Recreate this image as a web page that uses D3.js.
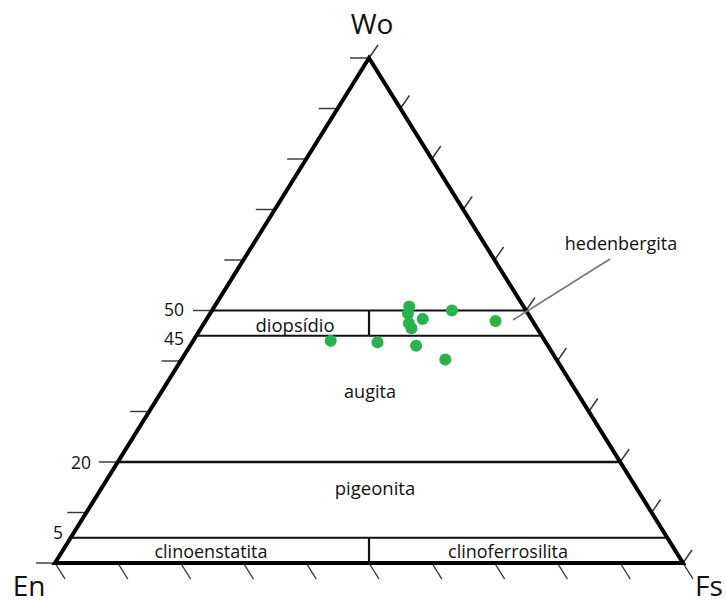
<!DOCTYPE html>
<html>
<head>
<meta charset="utf-8">
<script src="https://cdn.jsdelivr.net/npm/d3@7"></script>
<style>
  html, body { margin: 0; padding: 0; background: #fff; }
  svg text { font-family: "Open Sans", "Noto Sans", sans-serif; fill: #111; }
</style>
</head>
<body>
<svg id="chart" width="726" height="605"></svg>
<script>
// Pyroxene quadrilateral (Wo–En–Fs), compositions in mol %
const wo = [50.8, 49.4, 47.5, 46.5, 48.3, 50.0, 47.9, 44.0, 43.7, 43.0, 40.3];
const en = [18.2, 19.1, 19.9, 20.0, 17.3, 11.8, 5.9, 34.1, 26.8, 21.0, 17.7];
const fs = [31.0, 31.5, 32.6, 33.5, 34.4, 38.2, 46.2, 21.9, 29.5, 36.0, 42.0];

// Wo levels of the field boundaries and their labels
const boundaryWo = [50, 45, 20, 5];
const boundaryLabels = ["50", "45", "20", "5"];

// Tick positions (percent) along every side
const tickValues = [0, 10, 20, 30, 40, 50, 60, 70, 80, 90, 100];

// Field names
const fieldNames = ["diopsídio", "hedenbergita", "augita", "pigeonita", "clinoenstatita", "clinoferrosilita"];
const apexNames = ["Wo", "En", "Fs"];

const svg = d3.select("#chart");

// Triangle corners in screen space
const P_EN = [55, 563], P_FS = [683, 563], P_WO = [369, 58];

// Wo -> vertical position; Fs -> horizontal position along the base
const yWo = d3.scaleLinear().domain([0, 100]).range([P_EN[1], P_WO[1]]);
const xFs = d3.scaleLinear().domain([0, 100]).range([P_EN[0], P_FS[0]]);
const xWoShift = d3.scaleLinear().domain([0, 100]).range([0, P_WO[0] - P_EN[0]]);

// (Wo, Fs) -> [x, y]
function proj(w, f) {
  return [xFs(f) + xWoShift(w), yWo(w)];
}
// points on the left (En–Wo) and right (Fs–Wo) sides at a given Wo
const leftAt = w => proj(w, 0);
const rightAt = w => proj(w, 100 - w);

const line = d3.line();

// ticks
const tickG = svg.append("g").attr("stroke", "#333").attr("stroke-width", 1.4).attr("fill", "none");
tickValues.forEach(t => {
  const l = leftAt(t);
  tickG.append("path").attr("d", line([[l[0] - 19, l[1]], l]));
  const b = proj(0, t);
  tickG.append("path").attr("d", line([b, [b[0] + 10, b[1] + 16]]));
  const r = rightAt(t);
  tickG.append("path").attr("d", line([r, [r[0] + 9, r[1] - 13]]));
});

// field boundaries
const bG = svg.append("g").attr("stroke", "#111").attr("fill", "none");
boundaryWo.forEach(w => {
  bG.append("path").attr("d", line([leftAt(w), rightAt(w)]))
    .attr("stroke-width", w === 20 ? 2.6 : 2.2);
});
// En = Fs dividers
const mid = w => proj(w, (100 - w) / 2);
bG.append("path").attr("d", line([mid(50), mid(45)])).attr("stroke-width", 2.2);
bG.append("path").attr("d", line([mid(5), mid(0)])).attr("stroke-width", 2.2);

// triangle outline
svg.append("path")
  .attr("d", line([P_EN, P_FS, P_WO]) + "Z")
  .attr("fill", "none").attr("stroke", "#000").attr("stroke-width", 4)
  .attr("stroke-linejoin", "miter");

// boundary value labels
const numPos = [[184, 316], [184, 345], [91, 469], [63, 539]];
boundaryLabels.forEach((s, i) => {
  svg.append("text").attr("x", numPos[i][0]).attr("y", numPos[i][1])
    .attr("text-anchor", "end").attr("font-size", 17.5).text(s);
});

// field labels
const fieldPos = [[295, 332, 18.5], [621, 250, 18], [370, 398, 18], [375, 495, 18.5], [211, 558, 18], [508, 558, 18]];
fieldNames.forEach((s, i) => {
  svg.append("text").attr("x", fieldPos[i][0]).attr("y", fieldPos[i][1])
    .attr("text-anchor", "middle").attr("font-size", fieldPos[i][2]).text(s);
});

// hedenbergita leader line
svg.append("path").attr("d", line([[610, 259], [513, 320]]))
  .attr("stroke", "#777").attr("stroke-width", 1.6).attr("fill", "none");

// apex labels
const apexPos = [[372, 34], [29, 596], [709, 596]];
apexNames.forEach((s, i) => {
  svg.append("text").attr("x", apexPos[i][0]).attr("y", apexPos[i][1])
    .attr("text-anchor", "middle").attr("font-size", 28).text(s);
});

// analyses
const pts = wo.map((w, i) => ({ w, e: en[i], f: fs[i] }));
svg.append("g").selectAll("circle").data(pts).join("circle")
  .attr("cx", d => proj(d.w, d.f)[0])
  .attr("cy", d => proj(d.w, d.f)[1])
  .attr("r", 6)
  .attr("fill", "#2ab34b");
</script>
</body>
</html>
